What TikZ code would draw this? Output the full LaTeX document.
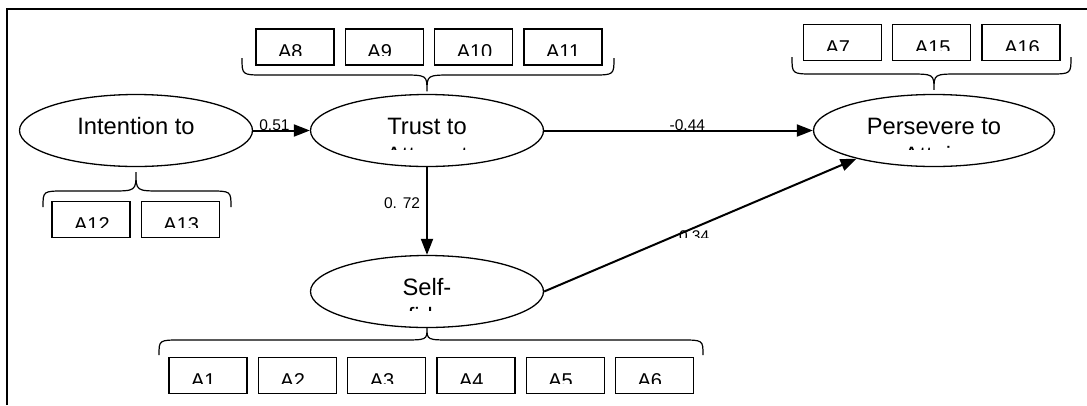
\documentclass[tikz,border=0pt]{standalone}
\usepackage{fontspec}
\setmainfont{Liberation Sans}
\usetikzlibrary{arrows.meta, shapes.geometric, positioning, calc}
% curly brace: x of left end, x of right end, y of ends, y of bar, tip
\newcommand*{\cbrace}[5]{%
  \draw[brace] let \p1=(#5) in
    (#1,#3) .. controls (#1,#4) .. (#1+22,#4)
    -- (\x1-26pt,-#4pt) .. controls (\x1,-#4pt) .. (\x1,\y1)
    .. controls (\x1,-#4pt) .. (\x1+26pt,-#4pt)
    -- (#2-22,#4) .. controls (#2,#4) .. (#2,#3);}

\begin{document}
\begin{tikzpicture}[x=1pt, y=-1pt, node distance=10pt, >={Triangle[length=16pt,width=12pt]},
      ltext/.style={rectangle, draw=none, fill=none, minimum size=0pt, inner sep=0pt,
        anchor=base, font=\fontsize{23.7}{28}\selectfont},
      itext/.style={rectangle, draw=none, fill=none, minimum size=0pt, inner sep=0pt,
        anchor=base west, font=\fontsize{20}{24}\selectfont},
      latent/.style 2 args={ellipse, draw, line width=1.3pt, minimum width=233pt,
        minimum height=72pt, inner sep=0pt,
        path picture={
          \clip ([yshift=-18.5pt]path picture bounding box.west) rectangle (path picture bounding box.north east);
          \node[ltext] at ([yshift=-4pt]path picture bounding box.center) {#1};
          \node[ltext] at ([yshift=-32.5pt]path picture bounding box.center) {#2};}},
      item/.style={rectangle, draw, line width=1.3pt, minimum width=78pt, minimum height=36pt,
        inner sep=0pt,
        path picture={
          \clip ([yshift=-8pt]path picture bounding box.west) rectangle (path picture bounding box.north east);
          \node[itext] at ([shift={(21.5pt,-11.5pt)}]path picture bounding box.west) {#1};}},
      link/.style={->, line width=2pt},
      coef/.style={inner sep=0pt, font=\fontsize{15.5}{18}\selectfont},
      brace/.style={line width=1.2pt}
      ]
      \useasboundingbox (0,0) rectangle (1087,405);
      \draw[line width=1.5pt] (7,405) -- (7,9) -- (1087,9);

      % latent variables
      \node[latent={Intention to}{}] (intention) at (136,130.5) {};
      \node[latent={Trust to}{Attempt}] (trust) at (427,130.5) {};
      \node[latent={Persevere to}{Attain}, minimum width=241pt] (persevere) at (934,130.5) {};
      \node[latent={Self-}{confidence}] (self) at (427,291.5) {};

      % items
      \node[item=A8] (a8) at (295,47) {};
      \node[item=A9] (a9) [right=of a8] {};
      \node[item=A10] (a10) [right=of a9] {};
      \node[item=A11] (a11) [right=of a10] {};
      \node[item=A12] (a12) at (91,219.5) {};
      \node[item=A13] (a13) [right=of a12] {};
      \node[item=A7] (a7) at (842.5,42.5) {};
      \node[item=A15] (a15) [right=of a7] {};
      \node[item=A16] (a16) [right=of a15] {};
      \node[item=A1] (a1) at (208,375.5) {};
      \node[item=A2] (a2) [right=of a1] {};
      \node[item=A3] (a3) [right=of a2] {};
      \node[item=A4] (a4) [right=of a3] {};
      \node[item=A5] (a5) [right=of a4] {};
      \node[item=A6] (a6) [right=of a5] {};

      \cbrace{242}{614}{58}{75}{[yshift=2.5pt]trust.north}
      \cbrace{43}{231}{207}{191}{[yshift=-5pt]intention.south}
      \cbrace{792}{1071}{57}{74}{[yshift=4pt]persevere.north}
      \cbrace{159}{703}{355}{340}{self.south}

      % paths
      \draw[link] (intention) -- (trust) node[coef, pos=0.375, anchor=base] {0.51};
      \draw[link] (trust) -- (persevere) node[coef, pos=0.533, anchor=base] {-0.44};
      \draw[link] (trust) -- (self) node[coef, pos=0.41, left=6pt] {0. 72};
      \draw[link] (self.east) -- (persevere.200);
      \begin{scope}
        \clip (600,200) rectangle (800,237);
        \path (self.east) -- (persevere.200) node[coef, pos=0.48, anchor=base, yshift=-14pt] {0.34};
      \end{scope}
\end{tikzpicture}
\end{document}
